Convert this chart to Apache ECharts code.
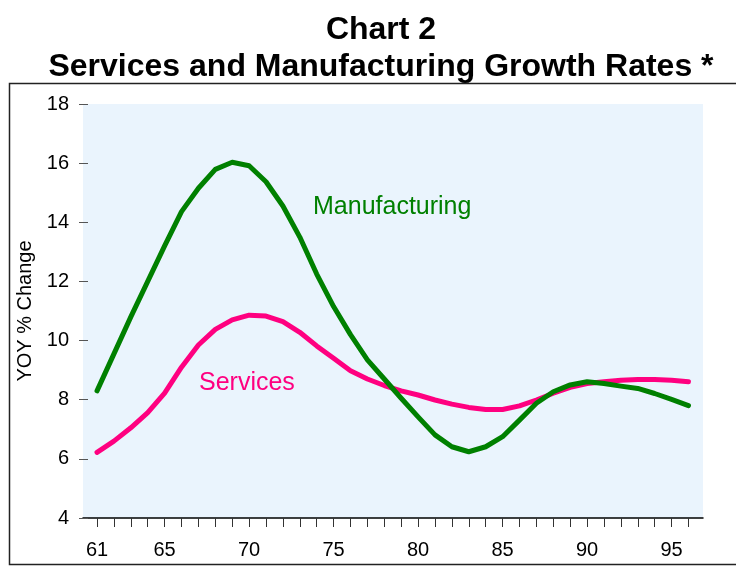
<!DOCTYPE html>
<html>
<head>
<meta charset="utf-8">
<title>Chart 2</title>
<script src="https://cdn.jsdelivr.net/npm/echarts@6/dist/echarts.min.js"></script>
<style>
  html, body { margin: 0; padding: 0; background: #fff; }
</style>
</head>
<body>
<div id="main" style="width: 736px; height: 569px;"></div>
<script type="text/javascript">
// years on the x axis (19xx)
var years = [61,62,63,64,65,66,67,68,69,70,71,72,73,74,75,76,77,78,
             79,80,81,82,83,84,85,86,87,88,89,90,91,92,93,94,95,96];
var yearLabels = [61,65,70,75,80,85,90,95];

// YOY % change
var services = [6.22,6.6,7.05,7.56,8.22,9.1,9.85,10.38,10.7,10.86,10.83,10.64,
                10.28,9.82,9.4,8.98,8.7,8.48,8.3,8.16,7.99,7.85,7.74,7.67,
                7.67,7.79,7.99,8.22,8.42,8.55,8.61,8.66,8.68,8.68,8.66,8.61];
var manufacturing = [8.3,9.55,10.8,12.0,13.2,14.36,15.15,15.79,16.03,15.91,15.37,14.55,
                     13.5,12.25,11.15,10.2,9.35,8.7,8.05,7.42,6.81,6.41,6.24,6.41,
                     6.75,7.31,7.88,8.27,8.5,8.61,8.55,8.46,8.38,8.21,8.01,7.8];

function pairs(vals) {
    var out = [];
    for (var i = 0; i < years.length; i++) out.push([years[i], vals[i]]);
    return out;
}

var font = 'Liberation Sans, Arial, sans-serif';
var myChart = echarts.init(document.getElementById('main'));

var option = {
    animation: false,
    title: {
        text: 'Chart 2\nServices and Manufacturing Growth Rates *',
        left: 376,
        top: 7,
        textAlign: 'center',
        textStyle: {
            fontFamily: font,
            fontSize: 32,
            fontWeight: 'bold',
            color: '#000',
            lineHeight: 37
        }
    },
    grid: {
        left: 83,
        right: 33,
        top: 104,
        bottom: 51,
        show: true,
        backgroundColor: '#eaf4fd',
        borderWidth: 0
    },
    xAxis: {
        type: 'value',
        min: 60.17,
        max: 96.86,
        axisLine: { show: true, lineStyle: { color: '#000', width: 1.5 } },
        axisTick: {
            show: true,
            length: 9,
            customValues: years,
            lineStyle: { color: '#333' }
        },
        axisLabel: {
            customValues: yearLabels,
            margin: 22,
            fontFamily: font,
            fontSize: 20,
            color: '#000'
        },
        splitLine: { show: false }
    },
    yAxis: {
        type: 'value',
        min: 4,
        max: 18,
        interval: 2,
        offset: -5,
        name: 'YOY % Change',
        nameLocation: 'middle',
        nameGap: 42,
        nameTextStyle: { fontFamily: font, fontSize: 20, color: '#000' },
        axisLine: { show: false },
        axisTick: { show: true, length: 9, lineStyle: { color: '#555' } },
        axisLabel: {
            margin: 19,
            fontFamily: font,
            fontSize: 20,
            color: '#000'
        },
        splitLine: { show: false }
    },
    graphic: [
        {
            type: 'rect',
            shape: { x: 9.5, y: 83.5, width: 800, height: 481 },
            style: { fill: 'none', stroke: '#222', lineWidth: 1.5 },
            z: 0
        },
        {
            type: 'text',
            left: 313, top: 195,
            style: { text: 'Manufacturing', fill: '#008000', font: '25px ' + font },
            z: 10
        },
        {
            type: 'text',
            left: 199, top: 371,
            style: { text: 'Services', fill: '#ff0080', font: '25px ' + font },
            z: 10
        }
    ],
    series: [
        {
            name: 'Services',
            type: 'line',
            data: pairs(services),
            showSymbol: false,
            lineStyle: { color: '#ff0080', width: 5, cap: 'round', join: 'round' }
        },
        {
            name: 'Manufacturing',
            type: 'line',
            data: pairs(manufacturing),
            showSymbol: false,
            lineStyle: { color: '#008000', width: 5, cap: 'round', join: 'round' }
        }
    ]
};

myChart.setOption(option);
</script>
</body>
</html>
